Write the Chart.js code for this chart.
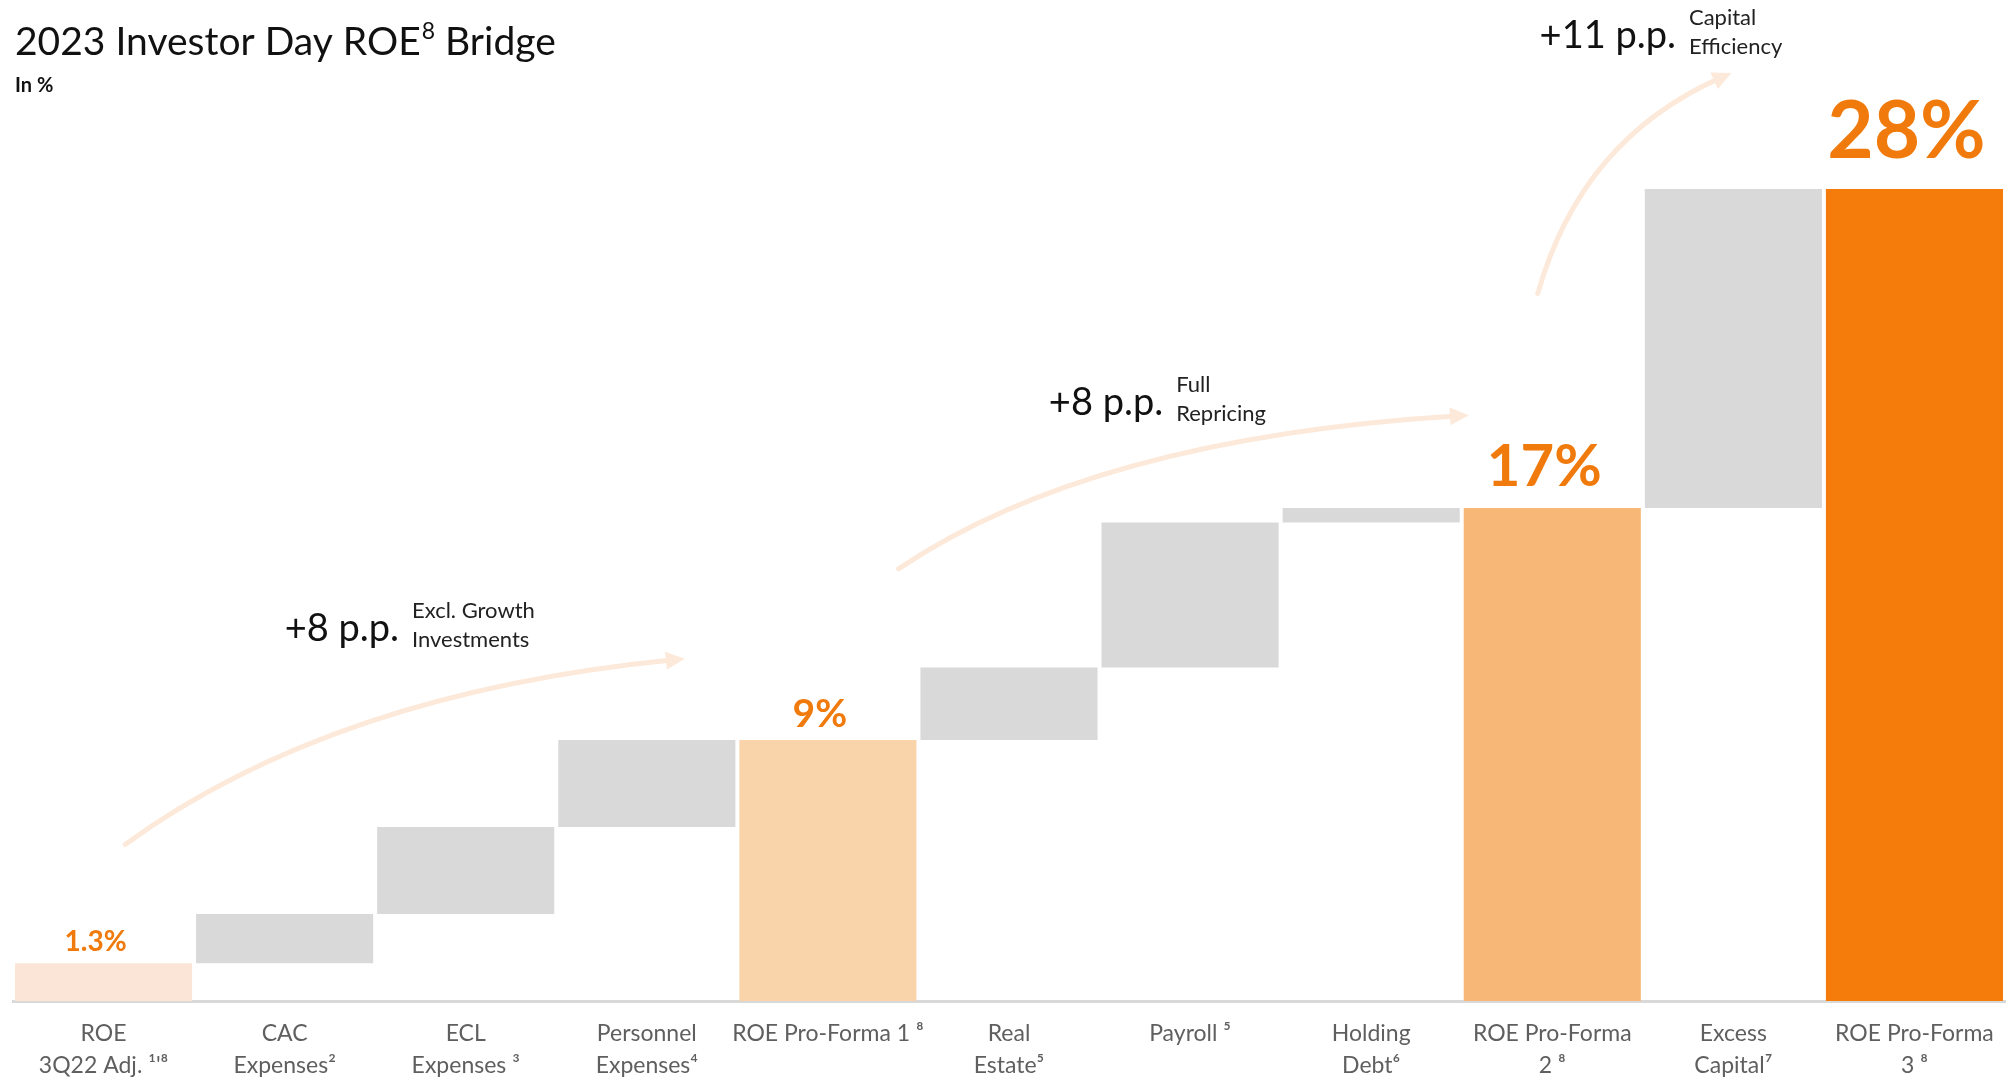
<!DOCTYPE html>
<html>
<head>
<meta charset="utf-8">
<title>2023 Investor Day ROE Bridge</title>
<script src="https://cdn.jsdelivr.net/npm/chart.js@4.4.0/dist/chart.umd.min.js"></script>
<style>
  html, body { margin: 0; padding: 0; background: #fff; }
  canvas { display: block; }
</style>
</head>
<body>
<canvas id="bridge" width="2014" height="1080"></canvas>
<script>
// bridge steps, in % ROE
const categories = [
  ['ROE', "3Q22 Adj. ¹'⁸"],
  ['CAC', 'Expenses²'],
  ['ECL', 'Expenses ³'],
  ['Personnel', 'Expenses⁴'],
  ['ROE Pro-Forma 1 ⁸'],
  ['Real', 'Estate⁵'],
  ['Payroll ⁵'],
  ['Holding', 'Debt⁶'],
  ['ROE Pro-Forma', '2 ⁸'],
  ['Excess', 'Capital⁷'],
  ['ROE Pro-Forma', '3 ⁸']
];
const barFrom = [0, 1.3, 3.0, 6.0, 0, 9.0, 11.5, 16.5, 0, 17.0, 0];
const barTo   = [1.3, 3.0, 6.0, 9.0, 9, 11.5, 16.5, 17.0, 17, 28, 28];
const totalIdx = [0, 4, 8, 10];
const stepRanges = [[0, 4], [4, 8], [8, 10]];
const stepNotes = [['Excl. Growth', 'Investments'], ['Full', 'Repricing'], ['Capital', 'Efficiency']];

const GREY = '#d9d9d9';
const totalColors = { 0: '#fbe5d6', 4: '#f9d4ab', 8: '#f7b776', 10: '#f57b0a' };
const ORANGE = '#f07a0c';
const ARROW = '#fde9d9';

const decor = {
  id: 'decor',
  afterDatasetsDraw(chart) {
    const { ctx } = chart;
    const meta = chart.getDatasetMeta(0);
    // value labels over the total bars
    const fontSize = { 0: 28, 4: 39, 8: 58, 10: 80 };
    const gap = { 0: 12, 4: 13, 8: 22, 10: 31 };
    ctx.save();
    ctx.fillStyle = ORANGE;
    ctx.textAlign = 'center';
    ctx.textBaseline = 'alphabetic';
    totalIdx.forEach(i => {
      const bar = meta.data[i];
      ctx.font = `bold ${fontSize[i]}px Lato`;
      ctx.fillText(barTo[i] + '%', bar.x - 8, bar.y - gap[i]);
    });
    ctx.restore();
  },
  afterDraw(chart) {
    const { ctx, scales: { x, y } } = chart;
    const P = (i, v) => ({ x: x.getPixelForValue(i), y: y.getPixelForValue(v) });

    // title
    ctx.save();
    ctx.fillStyle = '#111';
    ctx.textBaseline = 'alphabetic';
    ctx.font = '39px Lato';
    let tx = 15;
    ctx.fillText('2023 Investor Day ROE', tx, 55);
    tx += ctx.measureText('2023 Investor Day ROE').width + 1;
    ctx.font = '23px Lato';
    ctx.fillText('8', tx, 39);
    tx += ctx.measureText('8').width;
    ctx.font = '39px Lato';
    ctx.fillText(' Bridge', tx, 55);
    ctx.font = 'bold 20px Lato';
    ctx.fillText('In %', 15, 92);
    ctx.restore();

    // curved arrows with step annotations
    const arrows = [
      { p0: P(0.12, 5.4), c: P(1.27, 10.6), p1: P(3.21, 11.8), text: P(1.0, 12.4) },
      { p0: P(4.39, 14.9), c: P(5.46, 19.4), p1: P(7.54, 20.2), text: P(5.22, 20.2) },
      { p0: P(7.92, 24.4), c: P(8.16, 29.7), p1: P(8.99, 32.0), text: P(7.93, 32.85) }
    ];
    arrows.forEach((a, k) => {
      const { p0, c, p1 } = a;
      const ang = Math.atan2(p1.y - c.y, p1.x - c.x);
      const head = 19, half = 9;
      ctx.save();
      ctx.strokeStyle = ARROW;
      ctx.fillStyle = ARROW;
      ctx.lineWidth = 5;
      ctx.lineCap = 'round';
      ctx.beginPath();
      ctx.moveTo(p0.x, p0.y);
      ctx.quadraticCurveTo(c.x, c.y, p1.x - Math.cos(ang) * head * 0.7, p1.y - Math.sin(ang) * head * 0.7);
      ctx.stroke();
      ctx.beginPath();
      ctx.moveTo(p1.x, p1.y);
      ctx.lineTo(p1.x - Math.cos(ang) * head - Math.sin(ang) * half, p1.y - Math.sin(ang) * head + Math.cos(ang) * half);
      ctx.lineTo(p1.x - Math.cos(ang) * head + Math.sin(ang) * half, p1.y - Math.sin(ang) * head - Math.cos(ang) * half);
      ctx.closePath();
      ctx.fill();
      ctx.restore();

      const [s, e] = stepRanges[k];
      const pp = '+' + Math.round(barTo[e] - barTo[s]) + ' p.p.';
      ctx.save();
      ctx.fillStyle = '#111';
      ctx.textBaseline = 'alphabetic';
      ctx.font = '38px Lato';
      ctx.fillText(pp, a.text.x, a.text.y);
      const nx = a.text.x + ctx.measureText(pp).width + 13;
      ctx.font = '22px Lato';
      ctx.fillStyle = '#222';
      ctx.fillText(stepNotes[k][0], nx, a.text.y - 23);
      ctx.fillText(stepNotes[k][1], nx, a.text.y + 6);
      ctx.restore();
    });
  }
};

new Chart(document.getElementById('bridge'), {
  type: 'bar',
  data: {
    labels: categories,
    datasets: [{
      data: barFrom.map((f, i) => [f, barTo[i]]),
      backgroundColor: barFrom.map((f, i) => totalColors[i] || GREY),
      borderWidth: 0,
      barPercentage: 0.978,
      categoryPercentage: 1
    }]
  },
  options: {
    responsive: false,
    animation: false,
    layout: { padding: { top: 131, left: 13, right: 9, bottom: 0 } },
    plugins: {
      legend: { display: false },
      tooltip: { enabled: false }
    },
    scales: {
      x: {
        grid: { display: false, drawTicks: false },
        border: { display: true, color: GREY, width: 3 },
        ticks: {
          color: '#5f5f5f',
          padding: 16,
          maxRotation: 0,
          autoSkip: false,
          font: { family: 'Lato', size: 23, lineHeight: 1.4 }
        },
        afterFit(scale) { scale.height = 79; }
      },
      y: {
        display: false,
        min: 0,
        max: 30
      }
    }
  },
  plugins: [decor]
});
</script>
</body>
</html>
